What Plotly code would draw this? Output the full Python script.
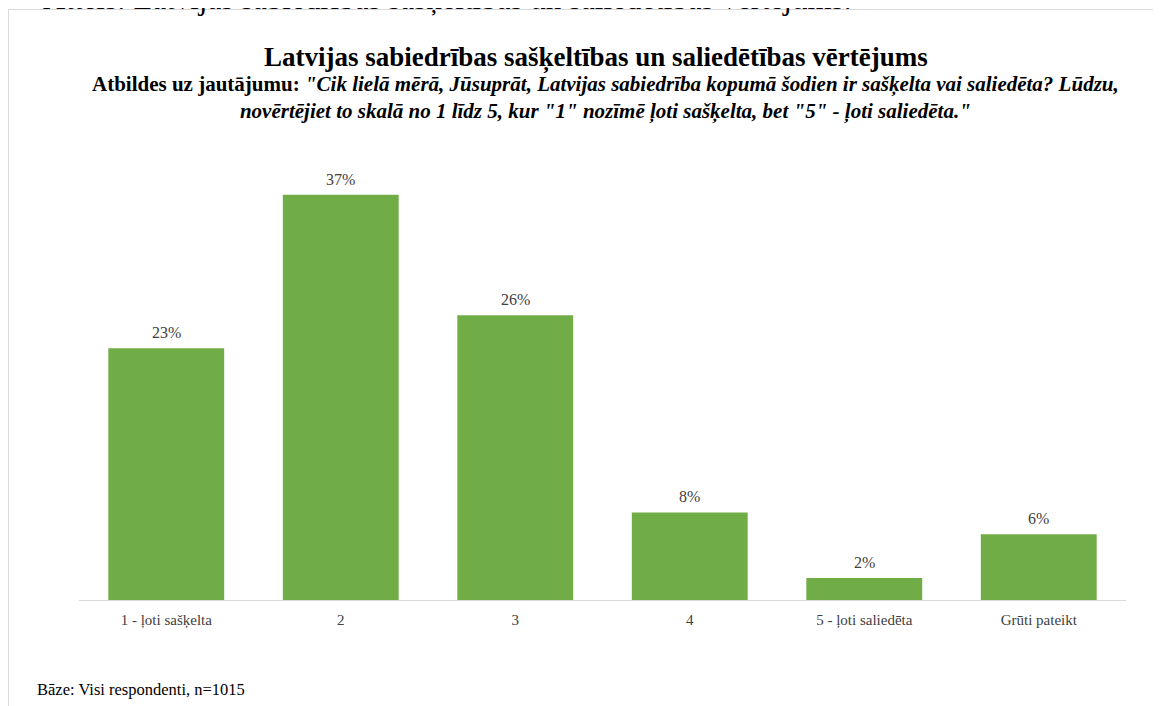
import plotly.graph_objects as go

categories = ["1 - ļoti sašķelta", "2", "3", "4", "5 - ļoti saliedēta", "Grūti pateikt"]
values = [23, 37, 26, 8, 2, 6]
labels = [f"{v}%" for v in values]

W, H = 1161, 706
L, R, T, B = 71, 43, 154, 114
PW, PH = W - L - R, H - T - B

def px_x(p):
    return (p - L) / PW

def px_y(p):
    return 1 - (p - T) / PH

SERIF = "Liberation Serif, Times New Roman, serif"
TXT = "#404040"

positions = list(range(len(categories)))

fig = go.Figure(go.Bar(
    x=positions, y=values,
    marker=dict(color="#70ad47", line=dict(width=0)),
    hoverinfo="skip",
))

value_annotations = [
    dict(text=lab, x=i, y=v, xref="x", yref="y", yanchor="bottom", xanchor="center",
         yshift=5, showarrow=False, font=dict(family=SERIF, size=16, color=TXT))
    for i, v, lab in zip(positions, values, labels)
]

fig.update_layout(
    width=W, height=H,
    margin=dict(l=L, r=R, t=T, b=B),
    paper_bgcolor="white", plot_bgcolor="white",
    bargap=0.336,
    showlegend=False,
    xaxis=dict(showline=True, linecolor="#d9d9d9", linewidth=1, ticks="",
               tickmode="array", tickvals=positions, ticktext=categories,
               range=[-0.5, len(categories) - 0.5], ticklabelstandoff=6,
               tickfont=dict(family=SERIF, size=15, color=TXT), showgrid=False, zeroline=False),
    yaxis=dict(range=[0, 40], visible=False, showgrid=False, zeroline=False),
    font=dict(family=SERIF),
    shapes=[dict(type="rect", xref="paper", yref="paper",
                 x0=px_x(0.5), x1=px_x(1175), y0=px_y(720), y1=px_y(1.5),
                 line=dict(color="#d9d9d9", width=1), fillcolor="rgba(0,0,0,0)", layer="below")],
    annotations=value_annotations + [
        dict(text="Attēls: Latvijas sabiedrības sašķeltības un saliedētības vērtējums.",
             xref="paper", yref="paper", x=px_x(845), y=px_y(10), xanchor="right", yanchor="bottom",
             yshift=-0.0, showarrow=False, font=dict(family=SERIF, size=31, color="black")),
        dict(text="<b>Latvijas sabiedrības sašķeltības un saliedētības vērtējums</b>",
             xref="paper", yref="paper", x=px_x(588), y=px_y(50), xanchor="center", yanchor="middle",
             showarrow=False, font=dict(family=SERIF, size=27, color="black")),
        dict(text="<b>Atbildes uz jautājumu: <i>\"Cik lielā mērā, Jūsuprāt, Latvijas sabiedrība kopumā šodien ir sašķelta vai saliedēta? Lūdzu,</i></b>"
                  "<br><b><i>novērtējiet to skalā no 1 līdz 5, kur \"1\" nozīmē ļoti sašķelta, bet \"5\" - ļoti saliedēta.\"</i></b>",
             xref="paper", yref="paper", x=px_x(597), y=px_y(90), xanchor="center", yanchor="middle",
             showarrow=False, font=dict(family=SERIF, size=21, color="black")),
        dict(text="Bāze: Visi respondenti, n=1015",
             xref="paper", yref="paper", x=px_x(27), y=px_y(681), xanchor="left", yanchor="middle",
             showarrow=False, font=dict(family=SERIF, size=16.5, color="black")),
    ],
)

fig.write_html("out.html")
